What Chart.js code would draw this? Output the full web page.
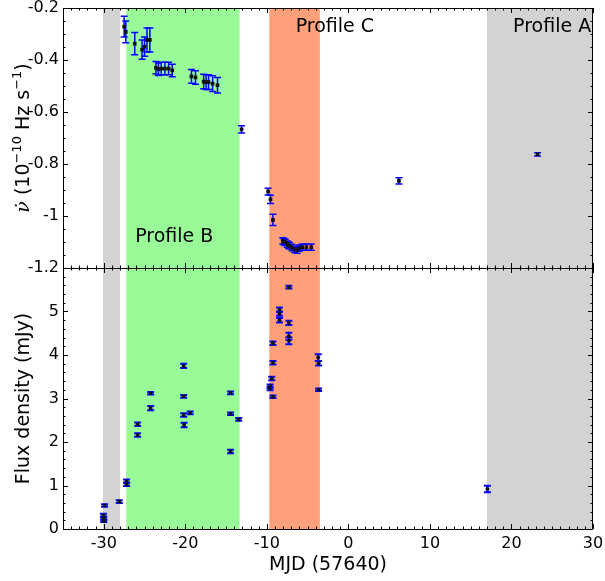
<!DOCTYPE html>
<html lang="en">
<head>
  <meta charset="UTF-8">
  <title>Spin-down rate and flux density</title>
  <script src="https://cdn.jsdelivr.net/npm/chart.js@4.4.0/dist/chart.umd.min.js"></script>
  <style>
    body { margin: 0; background: #fff; }
    #wrap { position: relative; width: 605px; height: 581px; }
    canvas { position: absolute; left: 0; }
  </style>
</head>
<body>
  <div id="wrap">
    <canvas id="nudotChart" width="605" height="292" style="top:0"></canvas>
    <canvas id="fluxChart" width="605" height="313" style="top:268px"></canvas>
  </div>

  <script>
    // Top panel: spin-down rate (10^-10 Hz/s) vs MJD - 57640
    const nudotMjd = [-27.5, -27.3, -26.2, -25.3, -25.0, -24.7, -24.35, -23.6, -23.3, -22.95,
                      -22.5, -22.05, -21.6, -19.25, -18.75, -17.75, -17.45, -17.15, -16.65, -16.05,
                      -13.1, -9.85, -9.55, -9.25, -8.05, -7.9, -7.75, -7.5, -7.35, -7.2,
                      -6.9, -6.6, -6.3, -6.0, -5.65, -5.15, -4.55, 6.2, 23.2];
    const nudotVal = [-0.272, -0.292, -0.337, -0.360, -0.349, -0.323, -0.323, -0.430, -0.436, -0.433,
                      -0.433, -0.433, -0.440, -0.463, -0.467, -0.483, -0.485, -0.485, -0.491, -0.497,
                      -0.667, -0.906, -0.936, -1.015, -1.096, -1.099, -1.101, -1.108, -1.112, -1.115,
                      -1.122, -1.128, -1.131, -1.124, -1.120, -1.120, -1.120, -0.865, -0.763];
    const nudotErr = [0.040, 0.042, 0.043, 0.037, 0.037, 0.046, 0.046, 0.024, 0.024, 0.024,
                      0.024, 0.024, 0.024, 0.026, 0.026, 0.028, 0.028, 0.028, 0.030, 0.030,
                      0.014, 0.013, 0.016, 0.022, 0.012, 0.012, 0.012, 0.012, 0.012, 0.012,
                      0.012, 0.012, 0.012, 0.012, 0.012, 0.012, 0.012, 0.012, 0.006];

    // Bottom panel: flux density (mJy)
    const fluxMjd = [-29.9, -30.05, -30.0, -30.0, -28.1, -27.2, -27.2, -25.85, -25.85, -24.25,
                     -24.25, -20.2, -20.2, -20.2, -20.15, -19.4, -14.45, -14.45, -14.45, -13.45,
                     -7.3, -8.45, -8.45, -8.45, -7.3, -7.3, -7.3, -9.25, -9.25, -9.4,
                     -9.6, -9.6, -9.25, -3.7, -3.65, -3.65, 17.05];
    const fluxVal = [0.54, 0.31, 0.25, 0.19, 0.63, 1.03, 1.10, 2.41, 2.16, 3.12,
                     2.78, 3.75, 3.05, 2.62, 2.39, 2.67, 3.13, 2.65, 1.78, 2.52,
                     5.56, 5.04, 4.95, 4.80, 4.74, 4.43, 4.33, 4.27, 3.82, 3.46,
                     3.28, 3.23, 3.04, 3.94, 3.81, 3.20, 0.92];
    const fluxErr = [0.03, 0.04, 0.04, 0.03, 0.03, 0.04, 0.04, 0.04, 0.04, 0.03,
                     0.05, 0.05, 0.03, 0.04, 0.05, 0.03, 0.03, 0.03, 0.04, 0.03,
                     0.03, 0.05, 0.05, 0.05, 0.05, 0.08, 0.08, 0.04, 0.04, 0.04,
                     0.04, 0.04, 0.03, 0.08, 0.05, 0.03, 0.075];

    // Profile windows (MJD range, colour)
    const bandStart = [-30.1, -27.25, -9.7, 17.0];
    const bandEnd   = [-28.0, -13.35, -3.5, 30];
    const bandColor = ['#d3d3d3', '#98fb98', '#ffa07a', '#d3d3d3'];

    const profileNames = ['Profile C', 'Profile A', 'Profile B'];
    const profileMjd   = [-6.47, 20.2, -26.15];
    const profileVal   = [-0.273, -0.273, -1.08];

    const xTicks = [-30, -20, -10, 0, 10, 20, 30];
    const nudotTicks = [-1.2, -1, -0.8, -0.6, -0.4, -0.2];
    const fluxTicks = [0, 1, 2, 3, 4, 5, 6];

    const X_MIN = -35, X_MAX = 30;
    const SANS = 'DejaVu Sans';

    // shaded profile windows behind the data
    const bandsPlugin = {
      id: 'bands',
      beforeDatasetsDraw(chart) {
        const { ctx, chartArea, scales: { x } } = chart;
        ctx.save();
        bandStart.forEach((s, i) => {
          const l = x.getPixelForValue(s);
          const r = x.getPixelForValue(bandEnd[i]);
          ctx.fillStyle = bandColor[i];
          ctx.fillRect(l, chartArea.top, r - l, chartArea.bottom - chartArea.top);
        });
        ctx.restore();
      }
    };

    // vertical error bars with caps
    const errorBarPlugin = {
      id: 'errorBars',
      beforeDatasetsDraw(chart, args, opts) {
        const { ctx, scales: { x, y } } = chart;
        ctx.save();
        ctx.strokeStyle = '#0000ff';
        ctx.lineWidth = opts.width;
        opts.xs.forEach((mjd, i) => {
          const px = x.getPixelForValue(mjd);
          const hi = y.getPixelForValue(opts.ys[i] + opts.errs[i]);
          const lo = y.getPixelForValue(opts.ys[i] - opts.errs[i]);
          ctx.beginPath();
          ctx.moveTo(px, hi); ctx.lineTo(px, lo);
          ctx.moveTo(px - opts.cap, hi); ctx.lineTo(px + opts.cap, hi);
          ctx.moveTo(px - opts.cap, lo); ctx.lineTo(px + opts.cap, lo);
          ctx.stroke();
        });
        ctx.restore();
      }
    };

    // matplotlib style frame with inward ticks on all sides
    const framePlugin = {
      id: 'frame',
      afterDatasetsDraw(chart, args, opts) {
        const { ctx, chartArea: a, scales: { x, y } } = chart;
        ctx.save();
        ctx.strokeStyle = '#000';
        ctx.lineWidth = 1;
        ctx.beginPath();
        for (let v = X_MIN; v <= X_MAX; v += 1) {
          const px = Math.round(x.getPixelForValue(v)) + 0.5;
          const len = xTicks.includes(v) ? 5 : 2.5;
          ctx.moveTo(px, a.top); ctx.lineTo(px, a.top + len);
          ctx.moveTo(px, a.bottom); ctx.lineTo(px, a.bottom - len);
        }
        for (let k = 0; k <= opts.nMinor; k++) {
          const v = opts.yMin + k * opts.minor;
          const py = Math.round(y.getPixelForValue(v)) + 0.5;
          const len = (k % opts.perMajor === 0) ? 5 : 2.5;
          ctx.moveTo(a.left, py); ctx.lineTo(a.left + len, py);
          ctx.moveTo(a.right, py); ctx.lineTo(a.right - len, py);
        }
        ctx.stroke();
        ctx.strokeRect(Math.round(a.left) + 0.5, Math.round(a.top) + 0.5,
                       Math.round(a.right - a.left) - 1, Math.round(a.bottom - a.top));
        ctx.restore();
      }
    };

    // free text: profile names, axis titles
    const textPlugin = {
      id: 'texts',
      afterDraw(chart, args, opts) {
        const { ctx, chartArea: a, scales: { x, y } } = chart;
        ctx.save();
        if (opts.profiles) {
          ctx.beginPath();
          ctx.rect(a.left, a.top, a.right - a.left, a.bottom - a.top);
          ctx.clip();
          ctx.fillStyle = '#000';
          ctx.font = '19px ' + SANS;
          ctx.textBaseline = 'middle';
          ctx.textAlign = 'left';
          profileNames.forEach((name, i) => {
            ctx.fillText(name, x.getPixelForValue(profileMjd[i]), y.getPixelForValue(profileVal[i]));
          });
          ctx.restore();
          ctx.save();
        }
        // rotated y title built from pieces (for superscripts)
        const parts = opts.yTitle;
        let total = 0;
        parts.forEach(p => { ctx.font = p.font; total += ctx.measureText(p.t).width; });
        ctx.translate(opts.yTitleX, (a.top + a.bottom) / 2);
        ctx.rotate(-Math.PI / 2);
        ctx.fillStyle = '#000';
        ctx.textBaseline = 'alphabetic';
        ctx.textAlign = 'left';
        let cx = -total / 2;
        parts.forEach(p => {
          ctx.font = p.font;
          ctx.fillText(p.t, cx, 7 + (p.sup ? -8 : 0));
          cx += ctx.measureText(p.t).width;
        });
        ctx.restore();
        if (opts.xTitle) {
          ctx.save();
          ctx.fillStyle = '#000';
          ctx.font = '19px ' + SANS;
          ctx.textAlign = 'center';
          ctx.textBaseline = 'middle';
          ctx.fillText(opts.xTitle, (a.left + a.right) / 2, a.bottom + 36);
          ctx.restore();
        }
      }
    };

    function fixTicks(values) {
      return scale => { scale.ticks = values.map(v => ({ value: v })); };
    }

    function panelOptions(cfg) {
      return {
        responsive: false,
        devicePixelRatio: 1,
        animation: false,
        events: [],
        layout: { padding: cfg.padding, autoPadding: false },
        plugins: {
          legend: { display: false },
          tooltip: { enabled: false },
          errorBars: cfg.errorBars,
          frame: cfg.frame,
          texts: cfg.texts
        },
        scales: {
          x: {
            type: 'linear',
            min: X_MIN,
            max: X_MAX,
            display: cfg.showX,
            afterBuildTicks: fixTicks(xTicks),
            afterFit: s => {
              s.height = cfg.showX ? 52 : 0;
              s.paddingLeft = 0; s.paddingRight = 0;
            },
            grid: { display: false, drawTicks: false },
            border: { display: false },
            ticks: { color: '#000', font: { family: SANS, size: 16 }, padding: 5, maxRotation: 0 }
          },
          y: {
            type: 'linear',
            min: cfg.yMin,
            max: cfg.yMax,
            afterBuildTicks: fixTicks(cfg.yTicks),
            afterFit: s => {
              s.width = 63;
              s.paddingTop = 0; s.paddingBottom = 0;
            },
            grid: { display: false, drawTicks: false },
            border: { display: false },
            ticks: {
              color: '#000',
              font: { family: SANS, size: 16 },
              padding: 4,
              callback: cfg.tickLabel
            }
          }
        }
      };
    }

    new Chart(document.getElementById('nudotChart'), {
      type: 'scatter',
      data: {
        datasets: [{
          data: nudotMjd.map((m, i) => ({ x: m, y: nudotVal[i] })),
          pointStyle: 'rect',
          pointRadius: 2.6,
          backgroundColor: '#111',
          borderWidth: 0
        }]
      },
      options: panelOptions({
        padding: { top: 8, right: 12, bottom: 24, left: 0 },
        showX: false,
        yMin: -1.2, yMax: -0.2,
        yTicks: nudotTicks,
        tickLabel: v => String(+v.toFixed(1)),
        errorBars: { xs: nudotMjd, ys: nudotVal, errs: nudotErr, width: 1.5, cap: 3.5 },
        frame: { yMin: -1.2, minor: 0.05, nMinor: 20, perMajor: 4 },
        texts: {
          profiles: true,
          yTitleX: 22,
          yTitle: [
            { t: 'ν\u0307', font: 'italic 19px DejaVu Serif' },
            { t: ' (10', font: '19px ' + SANS },
            { t: '\u221210', font: '13px ' + SANS, sup: true },
            { t: ' Hz s', font: '19px ' + SANS },
            { t: '\u22121', font: '13px ' + SANS, sup: true },
            { t: ')', font: '19px ' + SANS }
          ]
        }
      }),
      plugins: [bandsPlugin, errorBarPlugin, framePlugin, textPlugin]
    });

    new Chart(document.getElementById('fluxChart'), {
      type: 'scatter',
      data: {
        datasets: [{
          data: fluxMjd.map((m, i) => ({ x: m, y: fluxVal[i] })),
          pointStyle: 'circle',
          pointRadius: 2,
          backgroundColor: '#111',
          borderWidth: 0
        }]
      },
      options: panelOptions({
        padding: { top: 0, right: 12, bottom: 0, left: 0 },
        showX: true,
        yMin: 0, yMax: 6,
        yTicks: fluxTicks,
        tickLabel: v => (v >= 6 ? '' : String(v)),
        errorBars: { xs: fluxMjd, ys: fluxVal, errs: fluxErr, width: 2, cap: 3.5 },
        frame: { yMin: 0, minor: 0.2, nMinor: 30, perMajor: 5 },
        texts: {
          profiles: false,
          yTitleX: 22,
          xTitle: 'MJD (57640)',
          yTitle: [{ t: 'Flux density (mJy)', font: '19px ' + SANS }]
        }
      }),
      plugins: [bandsPlugin, errorBarPlugin, framePlugin, textPlugin]
    });
  </script>
</body>
</html>
